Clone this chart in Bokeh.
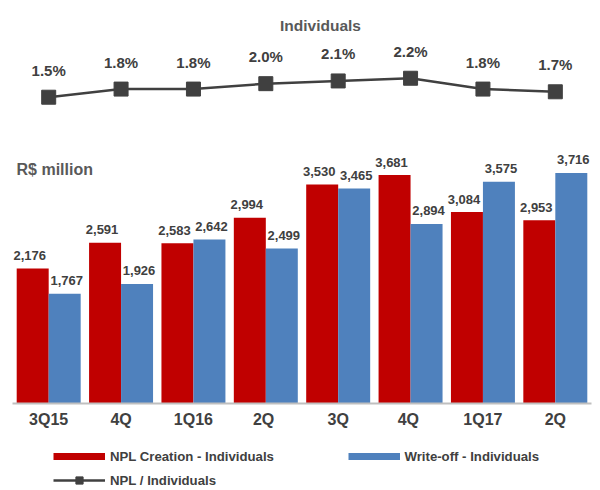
from bokeh.plotting import figure
from bokeh.models import (FactorRange, Range1d, ColumnDataSource, Label, Legend, LegendItem)
from bokeh.transform import dodge
from bokeh.layouts import column
from bokeh.embed import file_html
from bokeh.resources import INLINE
from bokeh.core.properties import value

# ---- data ----
quarters = ["3Q15", "4Q", "1Q16", "2Q ", "3Q", "4Q ", "1Q17", "2Q"]
npl_creation = [2176, 2591, 2583, 2994, 3530, 3681, 3084, 2953]
write_off = [1767, 1926, 2642, 2499, 3465, 2894, 3575, 3716]
npl_ratio = [1.5, 1.8, 1.8, 2.0, 2.1, 2.2, 1.8, 1.7]

FONT = "Liberation Sans"
RED = "#C00000"
BLUE = "#4F81BD"
DARK = "#404040"
GRAY = "#595959"
NAN = float("nan")

src = ColumnDataSource(dict(
    q=quarters,
    npl=npl_creation,
    wo=write_off,
    npl_lbl=[f"{v:,}" for v in npl_creation],
    wo_lbl=[f"{v:,}" for v in write_off],
    pct=npl_ratio,
    pct_lbl=[f"{v:.1f}%" for v in npl_ratio],
))

p = figure(x_range=FactorRange(*quarters, range_padding=0),
           y_range=Range1d(0, 6494),
           width=600, height=432,
           min_border_left=12, min_border_right=9, min_border_top=0, min_border_bottom=29,
           output_backend="svg", toolbar_location=None)
p.extra_y_ranges = {"pct": Range1d(-9.80, 5.068)}

p.outline_line_color = None
p.xgrid.visible = False
p.ygrid.visible = False
p.yaxis.visible = False

ax = p.xaxis[0]
ax.axis_line_color = "#BFBFBF"
ax.axis_line_width = 2
ax.major_tick_line_color = None
ax.minor_tick_line_color = None
ax.major_tick_out = 0
ax.major_tick_in = 0
ax.major_label_standoff = 7
ax.major_label_text_font = FONT
ax.major_label_text_font_style = "bold"
ax.major_label_text_font_size = "16px"
ax.major_label_text_color = DARK

bw = 0.442
r_npl = p.vbar(x=dodge("q", -bw / 2, range=p.x_range), top="npl", width=bw,
               source=src, fill_color=RED, line_color=None)
r_wo = p.vbar(x=dodge("q", bw / 2, range=p.x_range), top="wo", width=bw,
              source=src, fill_color=BLUE, line_color=None)

p.text(x=dodge("q", -bw / 2, range=p.x_range), y="npl", text="npl_lbl", source=src,
       text_align="center", text_baseline="alphabetic", x_offset=-3, y_offset=-13,
       text_font=value(FONT), text_font_style="bold", text_font_size="13px",
       text_color=DARK)
p.text(x=dodge("q", bw / 2, range=p.x_range), y="wo", text="wo_lbl", source=src,
       text_align="center", text_baseline="alphabetic", x_offset=2, y_offset=-13,
       text_font=value(FONT), text_font_style="bold", text_font_size="13px",
       text_color=DARK)

r_line = p.line(x="q", y="pct", source=src, y_range_name="pct",
                line_color=DARK, line_width=2.5)
r_mark = p.scatter(x="q", y="pct", source=src, y_range_name="pct",
                   marker="square", size=14, fill_color=DARK, line_color=DARK)
p.text(x="q", y="pct", text="pct_lbl", source=src, y_range_name="pct",
       text_align="center", text_baseline="alphabetic", y_offset=-27,
       text_font=value(FONT), text_font_style="bold", text_font_size="15px",
       text_color=DARK)

p.add_layout(Label(x=308, y=378.5, x_units="screen", y_units="screen",
                   text="Individuals", text_align="center", text_baseline="alphabetic",
                   text_font=FONT, text_font_style="bold", text_font_size="15.5px",
                   text_color=GRAY))
p.add_layout(Label(x=4, y=234.5, x_units="screen", y_units="screen",
                   text="R$ million", text_align="left", text_baseline="alphabetic",
                   text_font=FONT, text_font_style="bold", text_font_size="16px",
                   text_color=GRAY))

# ---- legend strip below the chart ----
p2 = figure(width=600, height=58, x_range=Range1d(0, 1), y_range=Range1d(0, 1),
            min_border_left=0, min_border_right=0, min_border_top=0, min_border_bottom=0,
            output_backend="svg", toolbar_location=None)
p2.axis.visible = False
p2.grid.visible = False
p2.outline_line_color = None

px_red = p2.line(x=[NAN], y=[NAN], line_color=RED, line_width=7)
px_blue = p2.line(x=[NAN], y=[NAN], line_color=BLUE, line_width=7)
px_line = p2.line(x=[NAN], y=[NAN], line_color=DARK, line_width=2.5)
px_mark = p2.scatter(x=[NAN], y=[NAN], marker="square", fill_color=DARK, line_color=DARK)


def make_legend(items, loc):
    return Legend(items=items, location=loc, orientation="vertical",
                  glyph_width=52, glyph_height=18, label_height=18, spacing=6,
                  padding=0, margin=0, label_standoff=5,
                  border_line_color=None, background_fill_alpha=0,
                  label_text_font=FONT, label_text_font_style="bold",
                  label_text_font_size="13.2px", label_text_color=DARK)


leg1 = make_legend([LegendItem(label="NPL Creation - Individuals", renderers=[px_red]),
                    LegendItem(label="NPL / Individuals", renderers=[px_line, px_mark])],
                   (41, 1))
leg2 = make_legend([LegendItem(label="Write-off - Individuals", renderers=[px_blue])],
                   (335.5, 25))
p2.add_layout(leg1)
p2.add_layout(leg2)

layout = column(p, p2, spacing=0)
open("out.html", "w").write(file_html(layout, INLINE))
